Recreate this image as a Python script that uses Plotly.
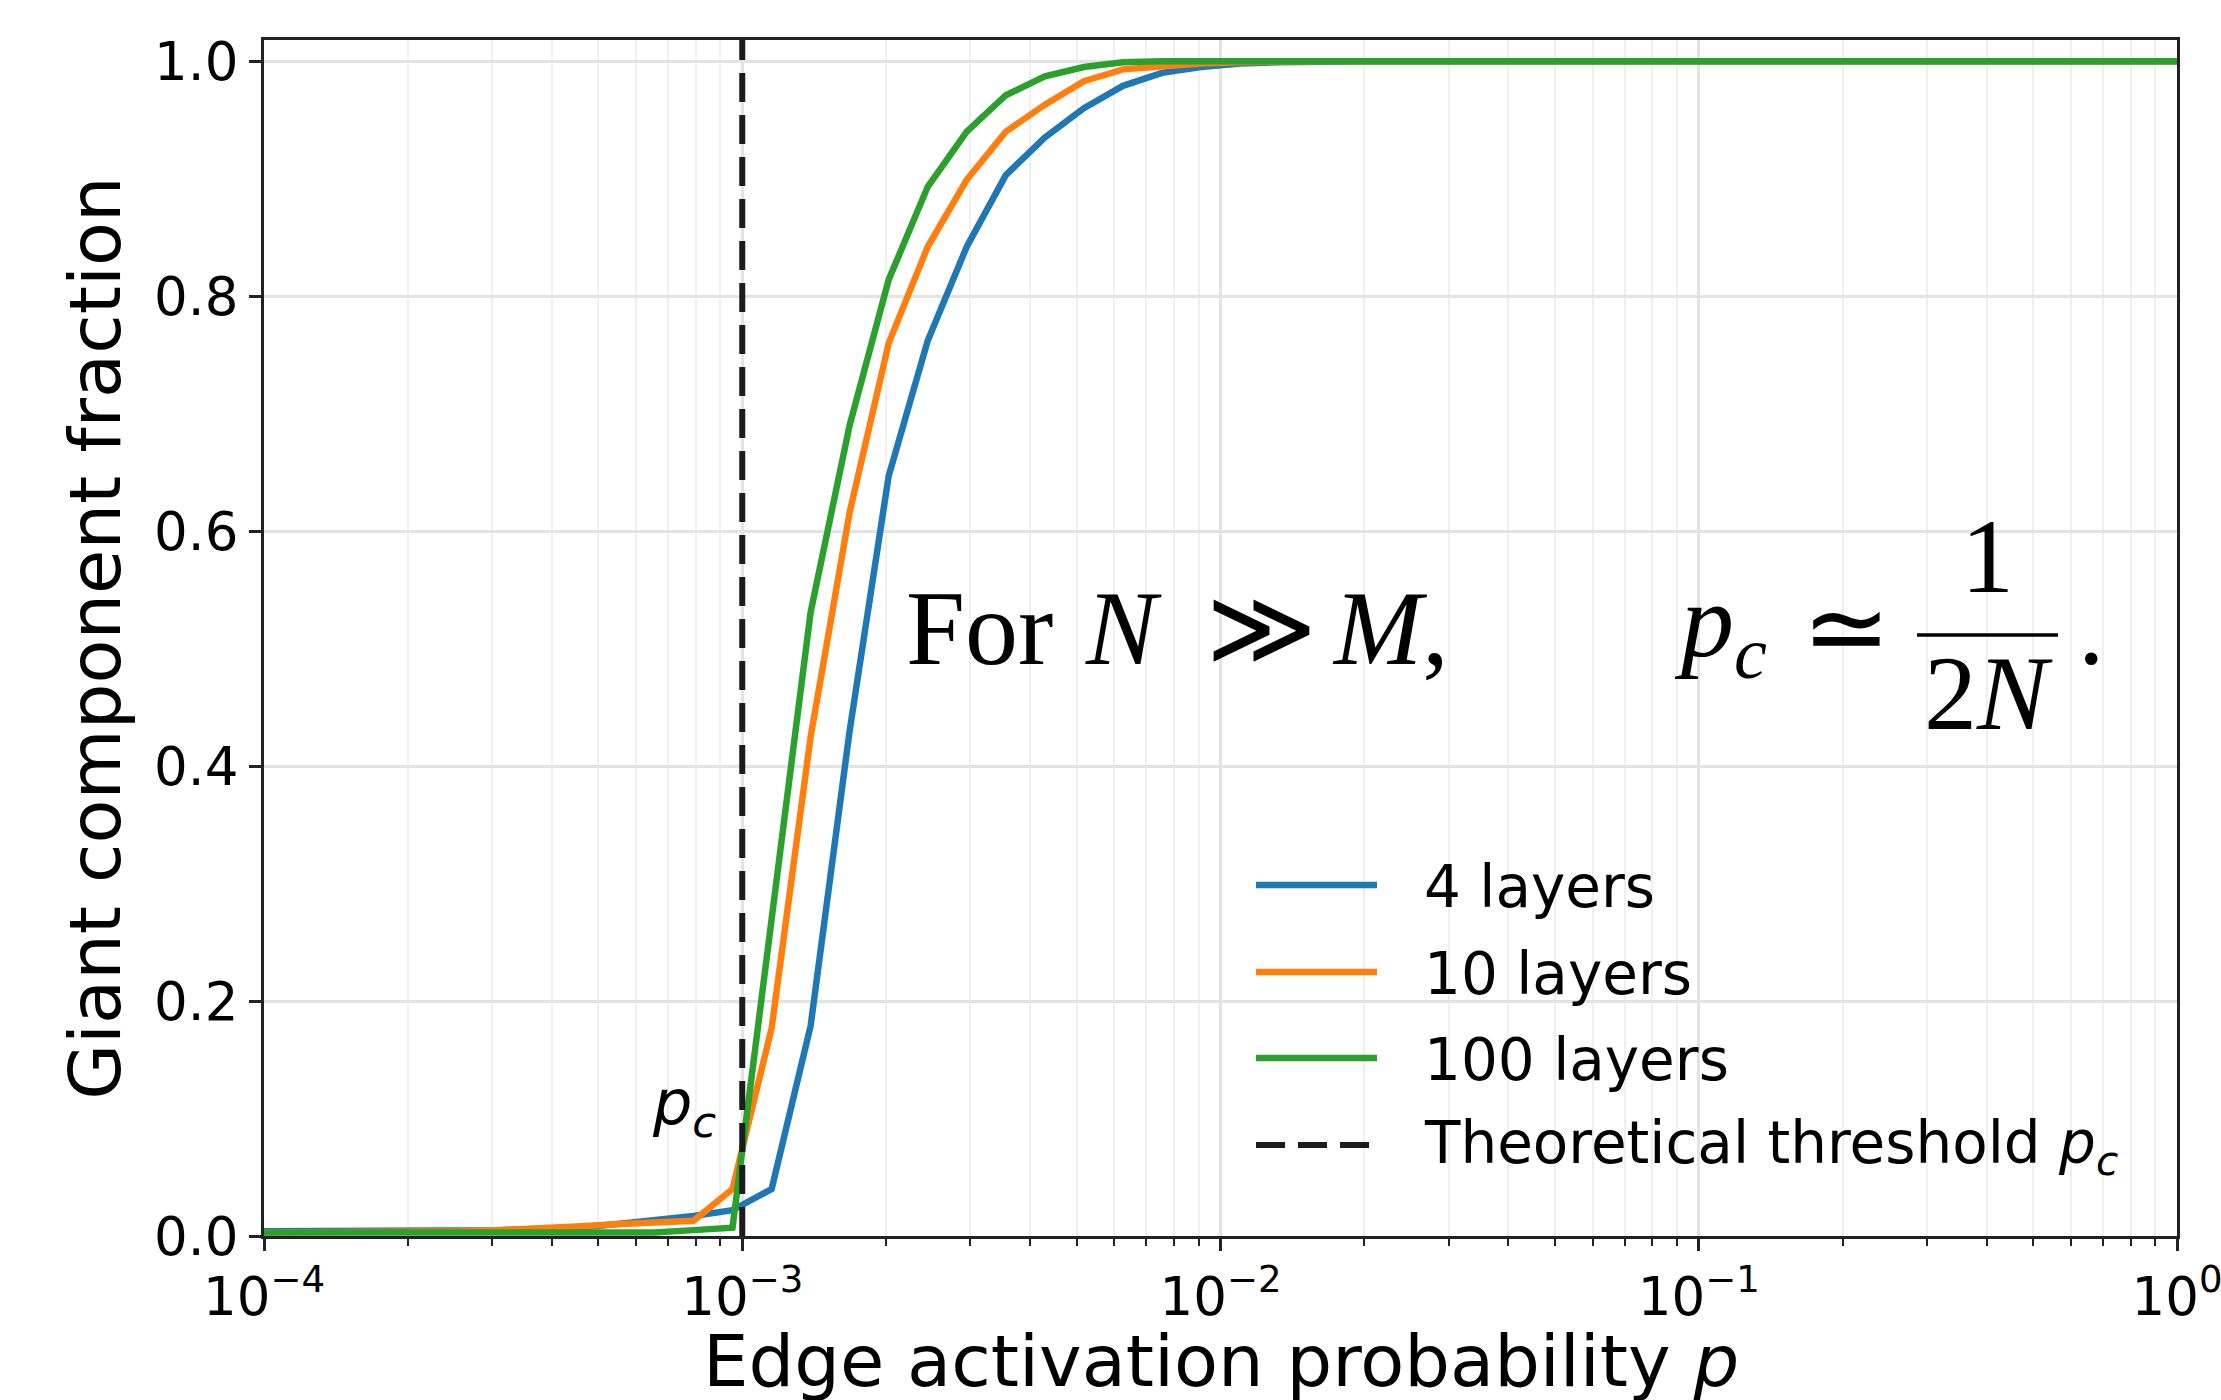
import plotly.graph_objects as go

# ---------------- data ----------------
P = [1.000e-4, 1.207e-4, 1.456e-4, 1.758e-4, 2.121e-4, 2.560e-4, 3.089e-4, 3.728e-4,
     4.499e-4, 5.429e-4, 6.552e-4, 7.907e-4, 9.542e-4, 1.152e-3, 1.390e-3, 1.677e-3,
     2.024e-3, 2.442e-3, 2.947e-3, 3.557e-3, 4.293e-3, 5.180e-3, 6.252e-3, 7.544e-3,
     9.105e-3, 1.099e-2, 1.326e-2, 1.600e-2, 1.931e-2, 2.330e-2, 2.812e-2, 3.394e-2,
     4.095e-2, 4.942e-2, 5.964e-2, 7.197e-2, 8.685e-2, 1.048e-1, 1.265e-1, 1.526e-1,
     1.842e-1, 2.223e-1, 2.683e-1, 3.237e-1, 3.907e-1, 4.715e-1, 5.690e-1, 6.866e-1,
     8.286e-1, 1.000]

LAYERS_4 = [0.004, 0.004, 0.004, 0.004, 0.005, 0.005, 0.005, 0.006, 0.007, 0.010,
            0.013, 0.017, 0.022, 0.040, 0.179, 0.430, 0.647, 0.762, 0.842, 0.903,
            0.935, 0.960, 0.979, 0.990, 0.995, 0.998, 0.999, 1.0, 1.0, 1.0,
            1.0, 1.0, 1.0, 1.0, 1.0, 1.0, 1.0, 1.0, 1.0, 1.0,
            1.0, 1.0, 1.0, 1.0, 1.0, 1.0, 1.0, 1.0, 1.0, 1.0]

LAYERS_10 = [0.003, 0.003, 0.003, 0.003, 0.004, 0.004, 0.005, 0.006, 0.008, 0.010,
             0.011, 0.013, 0.040, 0.177, 0.425, 0.616, 0.760, 0.842, 0.899, 0.940,
             0.963, 0.983, 0.993, 0.996, 0.998, 0.999, 1.0, 1.0, 1.0, 1.0,
             1.0, 1.0, 1.0, 1.0, 1.0, 1.0, 1.0, 1.0, 1.0, 1.0,
             1.0, 1.0, 1.0, 1.0, 1.0, 1.0, 1.0, 1.0, 1.0, 1.0]

LAYERS_100 = [0.003, 0.003, 0.003, 0.003, 0.003, 0.003, 0.003, 0.003, 0.003, 0.003,
              0.003, 0.005, 0.007, 0.270, 0.531, 0.690, 0.814, 0.893, 0.940, 0.971,
              0.987, 0.995, 0.999, 1.0, 1.0, 1.0, 1.0, 1.0, 1.0, 1.0,
              1.0, 1.0, 1.0, 1.0, 1.0, 1.0, 1.0, 1.0, 1.0, 1.0,
              1.0, 1.0, 1.0, 1.0, 1.0, 1.0, 1.0, 1.0, 1.0, 1.0]

SERIES_NAMES = ["4 layers", "10 layers", "100 layers"]
PC = 1e-3
THRESHOLD_NAME = "Theoretical threshold <i>p</i><sub><i>c</i></sub>"
X_TITLE = "Edge activation probability <i>p</i>"
Y_TITLE = "Giant component fraction"

X_TICKS = [1e-4, 1e-3, 1e-2, 1e-1, 1.0]
X_TICK_TEXT = ["10<sup>−4</sup>", "10<sup>−3</sup>", "10<sup>−2</sup>", "10<sup>−1</sup>", "10<sup>0</sup>"]
Y_TICKS = [0.0, 0.2, 0.4, 0.6, 0.8, 1.0]
X_MINOR = [m * 10.0 ** e for e in range(-4, 0) for m in range(2, 10)]

# ---------------- style ----------------
COLORS = ["#1f77b4", "#ff7f0e", "#2ca02c"]
LINE_W = 6.5
DASH = "29px,13px"
SANS = "DejaVu Sans"
SERIF = "Liberation Serif"

FIG_W, FIG_H = 2221, 1400
PL, PR, PT, PB = 264, 2177, 40, 1236
PW, PH = PR - PL, PB - PT


def px(x):
    return (x - PL) / PW


def py(y):
    return (PB - y) / PH


fig = go.Figure()
for ys, name, col in zip([LAYERS_4, LAYERS_10, LAYERS_100], SERIES_NAMES, COLORS):
    fig.add_trace(go.Scatter(x=P, y=ys, mode="lines", name=name,
                             line=dict(color=col, width=LINE_W), showlegend=False))

fig.add_trace(go.Scatter(x=[PC, PC], y=[0, 1.02], mode="lines", name="threshold",
                         line=dict(color="#1c1c1c", width=6, dash=DASH), showlegend=False))

# ---------------- custom legend ----------------
leg_y = [885, 972, 1058, 1145]
leg_names = SERIES_NAMES + [THRESHOLD_NAME]
leg_cols = COLORS + ["#1c1c1c"]
for i, (yy, nm, col) in enumerate(zip(leg_y, leg_names, leg_cols)):
    fig.add_shape(type="line", xref="paper", yref="paper",
                  x0=px(1256), x1=px(1377), y0=py(yy), y1=py(yy),
                  line=dict(color=col, width=LINE_W if i < 3 else 6,
                            dash="solid" if i < 3 else DASH))
    fig.add_annotation(xref="paper", yref="paper", x=px(1422), y=py(yy + 2),
                       text=nm, showarrow=False, xanchor="left", yanchor="middle",
                       font=dict(family=SANS, size=58, color="black"))

# ---------------- p_c label ----------------
fig.add_annotation(x=-3, y=0.11, xref="x", yref="y", text="<i>p</i><sub><i>c</i></sub>",
                   showarrow=False, xanchor="right", yanchor="middle", xshift=-24,
                   font=dict(family=SANS, size=62, color="black"))

# ---------------- x axis title ----------------
fig.add_annotation(xref="paper", yref="paper", x=0.5, y=py(1361),
                   text=X_TITLE, showarrow=False, xanchor="center", yanchor="middle",
                   font=dict(family=SANS, size=72, color="black"))

# ---------------- formula ----------------
FS = 106
ROW_Y = 628
formula_parts = [
    (904, "For"),
    (1083, "<i>N</i>"),
    (1204, "≫"),
    (1330, "<i>M</i>,"),
    (1672, "<i>p</i><sub><i>c</i></sub>"),
    (1800, "≃"),
    (2076, "."),
]
for xx, txt in formula_parts:
    fig.add_annotation(xref="paper", yref="paper", x=px(xx), y=py(ROW_Y),
                       text=txt, showarrow=False, xanchor="left", yanchor="middle",
                       font=dict(family=SERIF, size=FS, color="black"))
fig.add_annotation(xref="paper", yref="paper", x=px(1987), y=py(556),
                   text="1", showarrow=False, xanchor="center", yanchor="middle",
                   font=dict(family=SERIF, size=FS, color="black"))
fig.add_annotation(xref="paper", yref="paper", x=px(1988), y=py(693),
                   text="2<i>N</i>", showarrow=False, xanchor="center", yanchor="middle",
                   font=dict(family=SERIF, size=FS, color="black"))
fig.add_shape(type="line", xref="paper", yref="paper",
              x0=px(1917), x1=px(2058), y0=py(635), y1=py(635),
              line=dict(color="black", width=3.5))

# ---------------- layout ----------------
fig.update_layout(
    width=FIG_W, height=FIG_H,
    margin=dict(l=PL, r=FIG_W - PR, t=PT, b=FIG_H - PB, pad=0, autoexpand=False),
    paper_bgcolor="white", plot_bgcolor="white",
    font=dict(family=SANS, color="black"),
    showlegend=False,
)
fig.update_xaxes(
    type="log", range=[-4, 0], automargin=False,
    tickvals=X_TICKS, ticktext=X_TICK_TEXT, ticklabeloverflow="allow",
    tickfont=dict(family=SANS, size=53, color="black"),
    ticks="outside", ticklen=12, tickwidth=2.5, tickcolor="#222",
    showline=True, linecolor="#222", linewidth=3, mirror=True,
    showgrid=True, gridcolor="#e3e3e3", gridwidth=2.5, zeroline=False,
    minor=dict(tickvals=X_MINOR, ticks="outside", ticklen=7, tickwidth=2, tickcolor="#222",
               showgrid=True, gridcolor="#efefef", gridwidth=2),
)
fig.update_yaxes(
    range=[0, 1.018], automargin=False,
    tickvals=Y_TICKS, tickformat=".1f",
    tickfont=dict(family=SANS, size=53, color="black"),
    ticks="outside", ticklen=12, tickwidth=2.5, tickcolor="#222",
    showline=True, linecolor="#222", linewidth=3, mirror=True,
    showgrid=True, gridcolor="#e3e3e3", gridwidth=2.5, zeroline=False,
    title=dict(text=Y_TITLE, font=dict(family=SANS, size=72, color="black"), standoff=10),
)

fig.write_html("out.html")
